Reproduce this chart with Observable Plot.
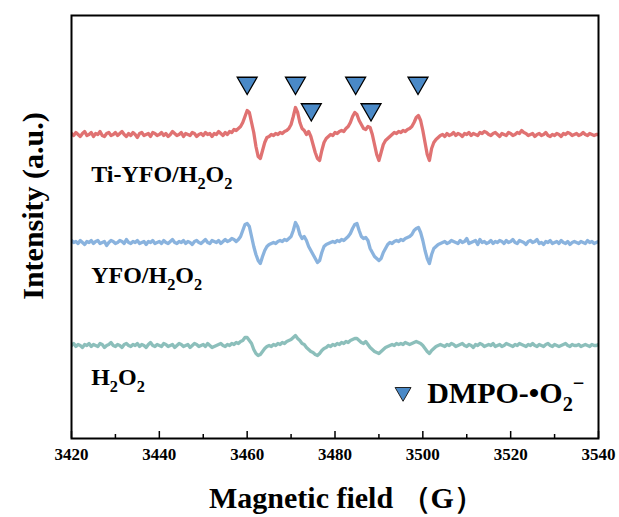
<!DOCTYPE html>
<html><head><meta charset="utf-8">
<script src="https://cdn.jsdelivr.net/npm/d3@7"></script>
<script src="https://cdn.jsdelivr.net/npm/@observablehq/plot@0.6"></script>
<style>body{margin:0;background:#fff}#chart{width:619px;height:517px}</style>
</head><body><div id="chart"></div>
<script>
// ---- data ----
const samples = ["Ti-YFO/H2O2", "YFO/H2O2", "H2O2"];
const offsets = [304, 196, 93];            // vertical stacking offsets (a.u.)
const colors = ["#E07272", "#8AB3DE", "#8CBFBB"];
const fieldStart = 3420, fieldStep = 0.5;  // G

const tiYFO = [
 1,-1,2,0,-2,1,3,-1,0,2,
 -2,1,0,3,-1,-2,1,2,-1,0,
 2,-1,1,3,0,-2,1,-1,2,0,
 -3,1,2,-1,0,1,-2,2,1,-1,
 0,2,-1,1,-2,0,3,1,-1,0,
 2,-2,1,0,-1,2,1,-2,0,1,
 -1,2,0,1,-2,1,0,3,1,-1,
 2,0,3,2,5,4,6,8,12,18,
 24,22,12,2,-12,-22,-24,-16,-8,-3,
 -2,0,-1,1,0,2,1,3,4,6,
 10,18,27,22,12,6,4,0,3,-2,
 -10,-18,-24,-26,-16,-8,-4,-2,0,-1,
 2,1,3,4,3,6,8,12,18,22,
 20,14,10,6,5,8,7,0,-10,-20,
 -26,-18,-10,-6,-4,-2,0,2,1,3,
 2,4,3,5,6,8,12,17,19,14,
 4,-8,-20,-26,-14,-8,-5,-3,-1,0,
 -2,1,-1,0,2,-1,1,0,-2,1,
 0,2,-1,1,0,-1,2,1,3,2,
 0,-1,1,2,0,-2,1,0,-1,2,
 1,-1,0,2,1,4,2,1,-1,0,
 1,-2,0,1,-1,0,2,-1,-2,0,
 -1,1,0,-2,1,0,2,1,-1,0,
 1,-1,0,2,0,-1,1,0,-1,0,
 0];
const yfo = [
 2,0,1,-1,2,0,-2,1,0,2,
 -1,1,2,-1,0,1,-3,0,2,1,
 -1,0,2,1,-1,3,0,-1,1,0,
 2,-1,0,1,-2,1,0,2,-1,0,
 1,-1,2,0,-1,1,3,0,-1,1,
 0,2,-1,1,0,-2,1,2,0,-1,
 1,3,0,-1,2,1,0,2,-1,1,
 3,1,2,4,3,1,3,6,12,18,
 19,16,6,-4,-12,-18,-21,-14,-8,-4,
 -2,-1,0,-1,1,2,1,3,2,4,
 6,12,20,16,8,4,6,2,-4,-8,
 -12,-16,-20,-18,-10,-4,-2,-1,0,1,
 0,2,1,3,2,4,6,9,14,18,
 19,12,6,4,5,2,-6,-10,-14,-16,
 -18,-16,-10,-6,-2,0,-1,1,2,1,
 3,2,4,5,6,8,12,14,15,10,
 2,-8,-16,-21,-12,-6,-4,-2,-1,0,
 1,-1,0,2,1,0,-1,2,0,1,
 4,-1,0,1,2,-2,3,0,1,-1,
 0,2,-1,1,0,2,1,-1,2,0,
 1,3,0,-1,2,1,0,-2,1,2,
 0,1,3,-1,0,-2,1,0,2,-1,
 0,1,-1,2,0,-1,1,-2,0,1,
 0,-1,1,0,-1,2,0,1,-1,0,
 1];
const h2o2 = [
 0,2,-1,1,0,-2,1,0,2,-1,
 1,0,-1,2,1,-2,0,1,3,0,
 -1,1,0,-2,1,2,0,-1,1,0,
 2,-1,1,0,-2,1,3,0,-1,1,
 0,-1,2,1,-1,0,1,-2,0,2,
 1,-1,0,1,-2,0,2,1,-1,0,
 1,-1,2,0,-2,-1,0,1,2,0,
 -1,1,0,2,1,3,2,4,5,8,
 8,5,2,-4,-8,-10,-9,-6,-3,-1,
 0,-1,1,0,2,1,3,2,4,5,
 6,8,10,7,5,2,1,-2,-4,-6,
 -7,-9,-10,-8,-5,-3,-2,0,-1,1,
 0,2,1,3,2,4,3,5,6,7,
 7,5,3,2,4,1,-2,-4,-6,-7,
 -8,-6,-4,-2,-1,0,1,0,2,1,
 2,1,3,2,1,2,3,4,3,2,
 0,-3,-6,-8,-5,-3,-1,0,1,0,
 -1,1,0,2,1,-1,0,1,2,0,
 -1,1,0,-2,1,0,2,1,-1,0,
 1,0,2,-1,0,1,-1,0,2,1,
 0,-1,1,0,2,1,0,-1,1,0,
 2,0,-1,1,0,-1,1,2,0,-1,
 1,0,-1,0,1,2,0,-1,1,0,
 0,1,-1,0,1,0,-1,1,0,0,
 1];

const majorTicks = [3420, 3440, 3460, 3480, 3500, 3520, 3540];
const minorTicks = [3430, 3450, 3470, 3490, 3510, 3530];
const markerFields = [3460.0, 3471.0, 3474.6, 3484.7, 3488.2, 3498.9];
const markerLevels = [355.5, 355.5, 329, 355.5, 329, 355.5];
const labelField = 3424.6;
const labelLevels = [256, 155, 53];
const legendField = 3495.5, legendLevel = 46.4, legendTextField = 3501.1, legendTextLevel = 35;

// ---- build ----
const series = [tiYFO, yfo, h2o2];
const rows = [];
series.forEach((vals, s) => vals.forEach((v, i) => rows.push({sample: samples[s], field: fieldStart + i * fieldStep, value: offsets[s] + v})));
const markers = markerFields.map((f, i) => ({field: f, level: markerLevels[i]}));

const triDown = {draw(ctx, size) {
  const y = Math.sqrt(size / (3 * Math.sqrt(3)));
  ctx.moveTo(0, 2 * y); ctx.lineTo(-Math.sqrt(3) * y, -y); ctx.lineTo(Math.sqrt(3) * y, -y); ctx.closePath();
}};
const FONT = '"Liberation Serif", "Times New Roman", serif';

const plot = Plot.plot({
  width: 619, height: 517,
  marginLeft: 71, marginRight: 21, marginTop: 15, marginBottom: 79,
  x: {domain: [3420, 3540], label: null},
  y: {domain: [0, 423], axis: null, label: null},
  color: {domain: samples, range: colors},
  style: {fontFamily: FONT, fontWeight: "bold", color: "black", background: "white"},
  marks: [
    Plot.line(rows, {x: "field", y: "value", z: "sample", stroke: "sample", strokeWidth: 3.3, strokeLinejoin: "round", clip: true}),
    Plot.ruleX(majorTicks, {x: d => d, y1: 0, y2: 7, stroke: "black", strokeWidth: 1.5}),
    Plot.ruleX(minorTicks, {x: d => d, y1: 0, y2: 4, stroke: "black", strokeWidth: 1.5}),
    Plot.dot(markers, {x: "field", y: "level", symbol: triDown, r: 7.4, fill: "#4A89C7", stroke: "black", strokeWidth: 1.3}),
    Plot.dot([{field: legendField, level: legendLevel}], {x: "field", y: "level", symbol: triDown, r: 5.9, fill: "#4A89C7", stroke: "#222", strokeWidth: 1}),
    Plot.frame({stroke: "black", strokeWidth: 2}),
    Plot.axisX({ticks: majorTicks, tickSize: 0, tickPadding: 9, fontSize: 17, fontWeight: "bold", tickFormat: d => String(d), label: null})
  ]
});
document.getElementById("chart").appendChild(plot);

const sx = plot.scale("x"), sy = plot.scale("y");
const svg = d3.select(plot);
// enforce tick-label typography
svg.selectAll('g[aria-label="x-axis tick label"]').attr("font-size", 17).attr("font-weight", "bold").attr("font-family", FONT);
svg.selectAll('g[aria-label="x-axis tick label"] text').attr("font-size", 17);

function rich(x, y, parts, size, anchor = "start") {
  const t = svg.append("text").attr("x", x).attr("y", y).attr("font-size", size)
    .attr("font-weight", "bold").attr("font-family", FONT).attr("fill", "black").attr("text-anchor", anchor);
  let shift = 0;
  parts.forEach(p => {
    const [s, kind] = Array.isArray(p) ? p : [p, null];
    const target = kind === "sub" ? size * 0.28 : kind === "sup" ? -size * 0.42 : 0;
    const ts = t.append("tspan").text(s).attr("dy", target - shift);
    if (kind) ts.attr("font-size", size * 0.68);
    shift = target;
  });
  return t;
}
const chem = ["H", ["2", "sub"], "O", ["2", "sub"]];
const labelParts = [["Ti-YFO/", ...chem], ["YFO/", ...chem], chem];
labelParts.forEach((parts, i) => rich(sx.apply(labelField), sy.apply(labelLevels[i]), parts, 24));
rich(sx.apply(legendTextField), sy.apply(legendTextLevel), ["DMPO-•O", ["2", "sub"], ["−", "sup"]], 30);

svg.append("text").attr("x", 209).attr("y", 508).attr("font-size", 30).attr("font-weight", "bold")
  .attr("text-anchor", "start").attr("font-family", FONT).attr("fill", "black").text("Magnetic field （G）");
svg.append("text").attr("transform", "translate(43,206) rotate(-90)").attr("text-anchor", "middle")
  .attr("font-size", 30).attr("font-weight", "bold").attr("font-family", FONT).attr("fill", "black")
  .text("Intensity (a.u.)");
</script></body></html>
